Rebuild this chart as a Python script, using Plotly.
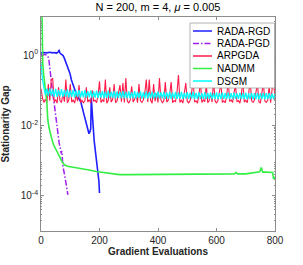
import plotly.graph_objects as go

# ---------------- data ----------------
series_names = ["RADA-RGD", "RADA-PGD", "ARPGDA", "NADMM", "DSGM"]
series_colors = ["#1f1fff", "#a020f0", "#ff1a4a", "#33ee44", "#00ffff"]

rgd_x = [0, 10, 20, 30, 40, 48, 52, 58, 60, 62, 64, 66, 70, 76, 80, 86, 91, 99, 104, 110,
         118, 126, 136, 146, 155, 161, 164, 167, 170, 172, 174, 178, 182, 186, 190, 193,
         195, 198, 200]
rgd_y = [1.15, 1.18, 1.15, 1.2, 1.15, 1.18, 1.12, 1.2, 1.3, 1.35, 1.2, 1.1, 1.05, 0.95, 0.8,
         0.6, 0.47, 0.3, 0.195, 0.13, 0.09, 0.065, 0.047, 0.022, 0.0103, 0.0066, 0.0058,
         0.0065, 0.008, 0.06, 0.025, 0.0103, 0.0035, 0.0018, 0.00094, 0.00068, 0.0005,
         0.00026, 0.00012]

pgd_x = [0, 5, 10, 15, 20, 24, 27, 30, 33, 36, 40, 44, 48, 52, 57, 62, 66, 69, 71, 73, 75,
         80, 85, 89, 92]
pgd_y = [1.05, 1.0, 1.05, 1.05, 1.0, 0.9, 0.72, 0.45, 0.25, 0.15, 0.08, 0.05, 0.025, 0.013,
         0.005, 0.0032, 0.0022, 0.0016, 0.0019, 0.0011, 0.00068, 0.00042, 0.00025, 0.00015,
         0.000107]

eval_x = list(range(0, 805, 5))

arpgda_y = [
    0.11, 0.06, 0.045, 0.055, 0.044, 0.15, 0.05, 0.2, 0.22, 0.046,
    0.054, 0.043, 0.12, 0.05, 0.045, 0.08, 0.047, 0.2, 0.044, 0.052,
    0.15, 0.046, 0.053, 0.043, 0.075, 0.049, 0.14, 0.045, 0.052, 0.044,
    0.05, 0.12, 0.046, 0.054, 0.043, 0.1, 0.048, 0.052, 0.044, 0.07,
    0.18, 0.045, 0.053, 0.047, 0.2, 0.043, 0.051, 0.12, 0.046, 0.054,
    0.15, 0.044, 0.05, 0.08, 0.14, 0.047, 0.16, 0.045, 0.22, 0.05,
    0.043, 0.052, 0.13, 0.046, 0.055, 0.075, 0.044, 0.15, 0.05, 0.045,
    0.053, 0.085, 0.2, 0.046, 0.2, 0.051, 0.043, 0.15, 0.049, 0.08,
    0.045, 0.22, 0.053, 0.044, 0.05, 0.17, 0.046, 0.052, 0.078, 0.17,
    0.044, 0.051, 0.047, 0.09, 0.27, 0.045, 0.053, 0.043, 0.08, 0.16,
    0.048, 0.044, 0.052, 0.085, 0.2, 0.046, 0.05, 0.043, 0.075, 0.18,
    0.045, 0.053, 0.047, 0.15, 0.044, 0.051, 0.08, 0.046, 0.2, 0.05,
    0.043, 0.052, 0.09, 0.16, 0.045, 0.05, 0.044, 0.07, 0.2, 0.048,
    0.053, 0.045, 0.085, 0.14, 0.047, 0.051, 0.043, 0.075, 0.18, 0.046,
    0.052, 0.044, 0.08, 0.2, 0.05, 0.045, 0.053, 0.09, 0.15, 0.047,
    0.043, 0.08, 0.17, 0.05, 0.045, 0.052, 0.13, 0.044, 0.09, 0.24,
    0.05]

nadmm_x = [0, 2, 3, 4, 6, 8.5, 13, 16.5, 20, 23, 27, 35, 43, 52, 60, 69, 75, 80, 90, 110,
           132, 160, 189, 220, 268, 300, 400, 450, 500, 542, 600, 640, 660, 667, 672, 700,
           720, 730, 740, 748, 753, 758, 770, 787, 792, 795, 800]
nadmm_y = [1000, 100, 10, 2, 0.6, 0.31, 0.16, 0.083, 0.044, 0.015, 0.009, 0.0048, 0.0028,
           0.002, 0.0014, 0.00105, 0.00085, 0.00076, 0.00069, 0.00065, 0.00062, 0.00055,
           0.00049, 0.00045, 0.0004, 0.0004, 0.0004, 0.00041, 0.0004, 0.00041, 0.00042,
           0.00041, 0.00042, 0.00046, 0.00042, 0.00042, 0.00044, 0.00046, 0.00045, 0.00048,
           0.00064, 0.00047, 0.00047, 0.00047, 0.00046, 0.0003, 0.00034]

dsgm_y = [
    0.6, 0.2, 0.12, 0.072, 0.11, 0.068, 0.115, 0.07, 0.105, 0.066,
    0.11, 0.065, 0.1, 0.068, 0.108, 0.064, 0.1, 0.066, 0.105, 0.063,
    0.098, 0.065, 0.103, 0.062, 0.097, 0.064, 0.1, 0.062, 0.095, 0.063,
    0.1, 0.061, 0.094, 0.063, 0.098, 0.061, 0.092, 0.062, 0.097, 0.06,
    0.093, 0.062, 0.096, 0.06, 0.091, 0.061, 0.097, 0.06, 0.09, 0.061,
    0.095, 0.059, 0.092, 0.061, 0.089, 0.06, 0.096, 0.059, 0.09, 0.06,
    0.093, 0.059, 0.088, 0.06, 0.094, 0.058, 0.089, 0.06, 0.092, 0.058,
    0.087, 0.059, 0.093, 0.058, 0.088, 0.06, 0.091, 0.058, 0.086, 0.059,
    0.092, 0.058, 0.087, 0.059, 0.09, 0.057, 0.086, 0.058, 0.091, 0.057,
    0.085, 0.058, 0.089, 0.057, 0.086, 0.058, 0.09, 0.057, 0.084, 0.058,
    0.088, 0.057, 0.085, 0.058, 0.089, 0.056, 0.084, 0.057, 0.087, 0.056,
    0.083, 0.057, 0.088, 0.056, 0.084, 0.057, 0.086, 0.056, 0.082, 0.057,
    0.087, 0.056, 0.083, 0.057, 0.085, 0.056, 0.082, 0.057, 0.086, 0.056,
    0.082, 0.056, 0.085, 0.056, 0.081, 0.057, 0.084, 0.056, 0.082, 0.056,
    0.085, 0.055, 0.081, 0.056, 0.084, 0.055, 0.082, 0.056, 0.083, 0.055,
    0.081, 0.056, 0.084, 0.055, 0.082, 0.056, 0.083, 0.055, 0.08, 0.056,
    0.082]

x_ticks = [0, 200, 400, 600, 800]
y_label_ticks = [1e-4, 1e-2, 1]
y_ticktext = ["10<sup>-4</sup>", "10<sup>-2</sup>", "10<sup>0</sup>"]
y_unlabeled_decades = [1e-5, 1e-3, 1e-1, 10]

title_text = "N = 200, m = 4, <i>μ</i> = 0.005"
x_title = "Gradient Evaluations"
y_title = "Stationarity Gap"

# ---------------- figure ----------------
FONT = "Liberation Sans, Arial, Helvetica, sans-serif"
W, H = 303, 265
ML, MR, MT, MB = 41, 28, 17, 34
PW, PH = W - ML - MR, H - MT - MB
YRANGE = [-5, 1.08]

xs = [rgd_x, pgd_x, eval_x, nadmm_x, eval_x]
ys = [rgd_y, pgd_y, arpgda_y, nadmm_y, dsgm_y]
dashes = ["solid", "6px,2px,1.5px,2px", "solid", "solid", "solid"]
widths = [1.6, 1.5, 1.1, 1.6, 1.3]

fig = go.Figure()
for name, color, x, y, d, w in zip(series_names, series_colors, xs, ys, dashes, widths):
    fig.add_trace(go.Scatter(x=x, y=y, mode="lines", name=name,
                             line=dict(color=color, width=w, dash=d),
                             showlegend=False))

minor_vals = [k * 10.0 ** e for e in range(-5, 2) for k in range(2, 10)]

axis_common = dict(showline=True, linecolor="#8c8c8c", linewidth=0.8, mirror="ticks",
                   ticks="inside", ticklen=3, tickcolor="#8c8c8c", tickwidth=0.8,
                   showgrid=False, zeroline=False, automargin=False,
                   tickfont=dict(family=FONT, size=10, color="#262626"))

fig.update_xaxes(range=[0, 800], tickmode="array", tickvals=x_ticks,
                 title=dict(text="<b>" + x_title + "</b>", standoff=2,
                            font=dict(family=FONT, size=10, color="#262626")),
                 **axis_common)
fig.update_yaxes(type="log", range=YRANGE, tickmode="array", tickvals=y_label_ticks,
                 ticktext=y_ticktext,
                 minor=dict(tickmode="array", tickvals=minor_vals, ticks="inside",
                            ticklen=1.5, tickcolor="#8c8c8c", tickwidth=0.6),
                 title=dict(text="<b>" + y_title + "</b>", standoff=10,
                            font=dict(family=FONT, size=10, color="#262626")),
                 **axis_common)

# second (overlaid) y axis only for the unlabeled decade ticks
ax2 = dict(axis_common)
ax2.pop("tickfont")
fig.update_layout(yaxis2=dict(overlaying="y", side="left", type="log", range=YRANGE,
                              tickmode="array", tickvals=y_unlabeled_decades,
                              showticklabels=False, **ax2))

# ---- custom compact legend (MATLAB style) ----
def px_x(px):
    return (px - ML) / PW

def px_y(py):
    return (MT + PH - py) / PH

shapes = [dict(type="rect", xref="paper", yref="paper",
               x0=px_x(190), x1=px_x(274.5), y0=px_y(88), y1=px_y(23),
               fillcolor="white", line=dict(color="#a0a0a0", width=0.8), layer="above")]
annotations = []
entry_py = [31, 43.5, 56, 68.5, 81]
for name, color, d, py in zip(series_names, series_colors, dashes, entry_py):
    shapes.append(dict(type="line", xref="paper", yref="paper",
                       x0=px_x(193), x1=px_x(212), y0=px_y(py), y1=px_y(py),
                       line=dict(color=color, width=1.5, dash=d), layer="above"))
    annotations.append(dict(text=name, xref="paper", yref="paper", x=px_x(214.5),
                            y=px_y(py), xanchor="left", yanchor="middle", showarrow=False,
                            font=dict(family=FONT, size=10, color="#000000")))

fig.update_layout(
    width=W, height=H,
    margin=dict(l=ML, r=MR, t=MT, b=MB),
    paper_bgcolor="white", plot_bgcolor="white",
    showlegend=False,
    title=dict(text=title_text, x=(ML + PW / 2) / W, xanchor="center",
               y=1 - 7.5 / H, yanchor="middle", yref="container",
               font=dict(family=FONT, size=11, color="#000000")),
    shapes=shapes, annotations=annotations,
)

fig.write_html("out.html", config={"displayModeBar": False},
               post_script="document.body.style.margin='0';document.body.style.padding='0';")
